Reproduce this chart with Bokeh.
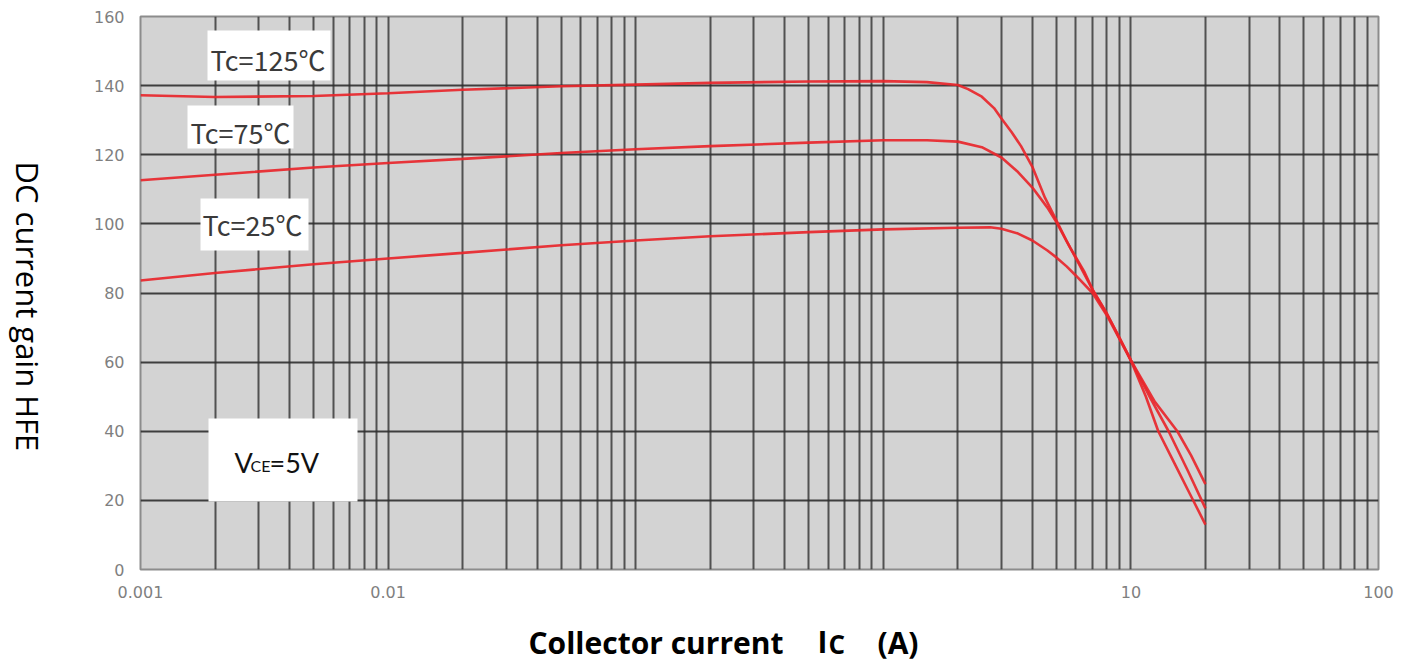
import math
from bokeh.plotting import figure
from bokeh.layouts import row, column
from bokeh.models import Range1d, FixedTicker, Label
from bokeh.embed import file_html
from bokeh.resources import INLINE

# ---------------- data ----------------
x_tick_values = [0.001, 0.01, 10, 100]
x_tick_labels = ["0.001", "0.01", "10", "100"]
y_tick_values = [0, 20, 40, 60, 80, 100, 120, 140, 160]
grid_decades = [0.001, 0.01, 0.1, 1, 10]
grid_mults = [1, 2, 3, 4, 5, 6, 7, 8, 9]

series_labels = ["Tc=125℃", "Tc=75℃", "Tc=25℃"]
x_title_parts = ["Collector current", "I", "C", "(A)"]
y_title = "DC current gain HFE"

ic_125 = [0.001, 0.002, 0.005, 0.01, 0.02, 0.05, 0.1, 0.2, 0.5, 1.0, 1.5, 2.0, 2.2, 2.5,
          2.8, 3.0, 3.3, 3.6, 4.0, 4.5, 5.0, 5.5, 6.0, 7.0, 8.0, 9.0, 10, 11.5, 12.9, 15, 17.5, 20]
hfe_125 = [137.2, 136.7, 137.0, 137.8, 138.8, 139.8, 140.3, 140.8, 141.2, 141.3, 141.0, 140.2, 139.0, 136.8,
           133.5, 130.5, 126.5, 122.5, 116.5, 107.5, 101.0, 95.0, 90.0, 81.0, 74.0, 67.0, 60.5, 50.0, 40.0, 30.7, 21.2, 13.0]

ic_75 = [0.001, 0.002, 0.005, 0.01, 0.02, 0.05, 0.1, 0.2, 0.5, 1.0, 1.5, 2.0, 2.5, 3.0,
         3.5, 4.0, 4.6, 5.0, 5.7, 6.5, 7.0, 8.0, 10, 12, 14.2, 17, 20]
hfe_75 = [112.6, 114.2, 116.3, 117.6, 118.8, 120.5, 121.6, 122.5, 123.5, 124.2, 124.2, 123.8, 122.2, 119.2,
          115.0, 110.5, 104.7, 100.5, 93.0, 86.0, 81.0, 74.0, 60.5, 49.5, 40.0, 28.5, 17.7]

ic_25 = [0.001, 0.002, 0.005, 0.01, 0.02, 0.05, 0.1, 0.2, 0.5, 1.0, 2.0, 2.7, 3.0, 3.5,
         4.0, 4.6, 5.0, 5.5, 6.0, 7.0, 8.0, 10, 12.5, 15.4, 17.5, 20]
hfe_25 = [83.6, 85.8, 88.3, 90.0, 91.6, 93.8, 95.2, 96.4, 97.6, 98.4, 98.9, 99.0, 98.6, 97.2,
          95.2, 92.3, 90.3, 87.7, 85.0, 80.0, 73.5, 60.5, 48.5, 40.0, 33.0, 24.7]

# ---------------- layout helpers (picture pixels -> frame / data) ----------------
W, H = 1416, 662
SIDE_W = 50                      # narrow panel holding the vertical axis title
BOTTOM_H = 50                    # strip holding the horizontal axis title
TOP_H = H - BOTTOM_H
FRAME_L, FRAME_T, FRAME_R, FRAME_B = 140, 16, 1378, 569
DEC_PX = (FRAME_R - FRAME_L) / 5.0
Y_PX = (FRAME_B - FRAME_T) / 160.0
BASE_FIX = 11      # empirical baseline correction for Label text
ROT_FIX = 41       # empirical correction for the rotated title start


def fx(px):
    return px - FRAME_L


def fy(py):
    return FRAME_B - py + BASE_FIX


def dx(px):
    return 0.001 * 10 ** ((px - FRAME_L) / DEC_PX)


def dy(py):
    return (FRAME_B - py) / Y_PX


def blank_figure(w, h):
    f = figure(width=w, height=h, x_range=Range1d(0, 1), y_range=Range1d(0, 1),
               output_backend="svg", toolbar_location=None,
               x_axis_location=None, y_axis_location=None,
               min_border_left=0, min_border_right=0, min_border_top=0, min_border_bottom=0)
    f.outline_line_color = None
    f.background_fill_color = "white"
    f.border_fill_color = "white"
    f.xgrid.visible = False
    f.ygrid.visible = False
    return f


# ---------------- side strip with the y title (reads top to bottom) ----------------
side = blank_figure(SIDE_W, TOP_H)
side.add_layout(Label(x=27, y=TOP_H - 163 - ROT_FIX, x_units="screen", y_units="screen", text=y_title,
                      angle=-math.pi / 2, text_font="Open Sans", text_font_size="31px",
                      text_color="black", text_align="left", text_baseline="middle"))

# ---------------- bottom strip with the x title ----------------
bottom = blank_figure(W, BOTTOM_H)
x_title_pos = [(528, 653, "30px"), (817, 652, "30px"), (828, 654, "26px"), (877, 653, "30px")]
for txt, (px, py, size) in zip(x_title_parts, x_title_pos):
    bottom.add_layout(Label(x=px, y=H - py + BASE_FIX, x_units="screen", y_units="screen", text=txt,
                            text_font="Open Sans", text_font_size=size, text_font_style="bold",
                            text_color="black", text_align="left", text_baseline="alphabetic"))

# ---------------- main chart ----------------
p = figure(width=W - SIDE_W, height=TOP_H, x_axis_type="log",
           x_range=Range1d(0.001, 100), y_range=Range1d(0, 160),
           output_backend="svg", toolbar_location=None,
           min_border_left=FRAME_L - SIDE_W, min_border_right=W - FRAME_R,
           min_border_top=FRAME_T, min_border_bottom=TOP_H - FRAME_B)

p.background_fill_color = "#d3d3d3"
p.border_fill_color = "white"
p.outline_line_color = "#8c8c8c"
p.outline_line_width = 2

grid_x = [m * d for d in grid_decades for m in grid_mults] + [100]
p.xgrid.ticker = FixedTicker(ticks=grid_x)
p.ygrid.ticker = FixedTicker(ticks=y_tick_values)
p.xgrid.grid_line_color = "#3a3a3a"
p.xgrid.grid_line_width = 2
p.xgrid.grid_line_alpha = 0.85
p.ygrid.grid_line_color = "#2e2e2e"
p.ygrid.grid_line_width = 2
p.ygrid.grid_line_alpha = 0.9

p.xaxis.ticker = FixedTicker(ticks=x_tick_values)
p.xaxis.major_label_overrides = {v: s for v, s in zip(x_tick_values, x_tick_labels)}
p.yaxis.ticker = FixedTicker(ticks=y_tick_values)
for ax in (p.xaxis, p.yaxis):
    ax.axis_line_color = None
    ax.major_tick_line_color = None
    ax.minor_tick_line_color = None
    ax.major_tick_out = 0
    ax.major_tick_in = 0
    ax.major_label_text_font = "DejaVu Sans"
    ax.major_label_text_font_size = "16px"
    ax.major_label_text_color = "#7f7f7f"
p.xaxis.major_label_standoff = 16
p.yaxis.major_label_standoff = 16

red = "#e8262b"
for xs, ys in ((ic_125, hfe_125), (ic_75, hfe_75), (ic_25, hfe_25)):
    p.line(xs, ys, line_color=red, line_width=2.6, line_alpha=0.92)

# white label boxes (picture-pixel placement)
boxes = [(207, 330, 30, 80), (187, 293, 105, 148), (200, 308, 198, 250), (208, 357, 418, 501)]
p.quad(left=[dx(b[0]) for b in boxes], right=[dx(b[1]) for b in boxes],
       top=[dy(b[2]) for b in boxes], bottom=[dy(b[3]) for b in boxes],
       fill_color="white", line_color=None)


def add_text(txt, px, py, size, font="Lato", style="normal", color="black"):
    p.add_layout(Label(x=fx(px), y=fy(py), x_units="screen", y_units="screen", text=txt,
                       text_font=font, text_font_size=size, text_font_style=style,
                       text_color=color, text_align="left", text_baseline="alphabetic"))


# temperature labels
tc_pos = [(210, 70), (190, 143), (202, 235)]
for txt, (px, py) in zip(series_labels, tc_pos):
    add_text(txt, px, py, "27px", font="Noto Sans CJK SC", color="#3a3a3a")

# V_CE = 5V
add_text("V", 234, 473, "27px", color="#111111")
add_text("CE", 250, 476, "16px", color="#111111")
add_text("=5V", 269, 473, "27px", color="#111111")

layout = column(row(side, p, spacing=0), bottom, spacing=0)
open("out.html", "w").write(file_html(layout, INLINE))
